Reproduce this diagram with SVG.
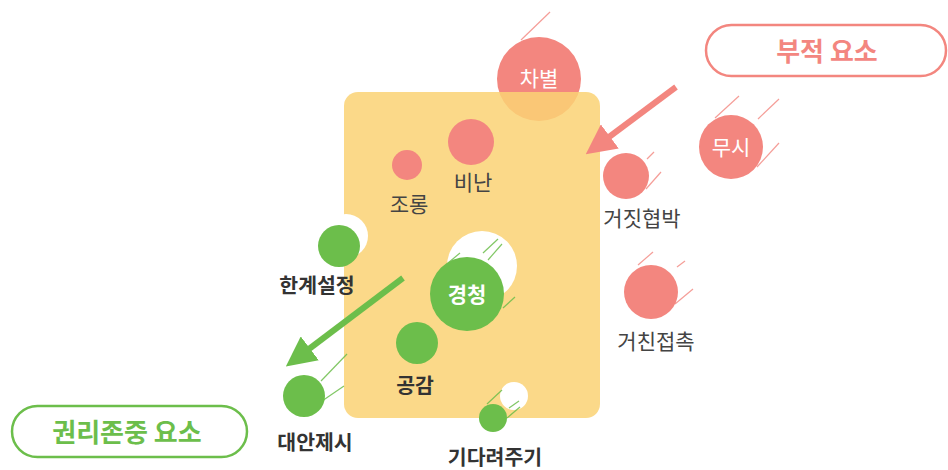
<svg xmlns="http://www.w3.org/2000/svg" width="948" height="470" viewBox="0 0 948 470">
<style>
.pk{fill:#F3867F}
.gr{fill:#6CBE4B}
.wh{fill:#FFFFFF}
.tp{stroke:#F3867F;stroke-width:1.2;opacity:0.8}
.tg{stroke:#6CBE4B;stroke-width:1.2;opacity:0.85}
.lbl{font-family:"Noto Sans CJK KR","Noto Sans",sans-serif;font-size:21px;fill:#444;text-anchor:middle}
.lb{font-family:"Noto Sans CJK KR","Noto Sans",sans-serif;font-size:20.5px;font-weight:bold;fill:#333;text-anchor:middle}
.in{font-family:"Noto Sans CJK KR","Noto Sans",sans-serif;font-size:21px;fill:#fff;text-anchor:middle}
.ttl{font-family:"Noto Sans CJK KR","Noto Sans",sans-serif;font-size:26px;font-weight:bold;text-anchor:middle}
</style>
<defs>
<marker id="ahp" viewBox="0 0 10 10" refX="2" refY="5" markerWidth="5" markerHeight="5" orient="auto" markerUnits="strokeWidth"><path d="M0,0 L10,5 L0,10 Z" fill="#F3867F"/></marker>
<marker id="ahg" viewBox="0 0 10 10" refX="2" refY="5" markerWidth="5" markerHeight="5" orient="auto" markerUnits="strokeWidth"><path d="M0,0 L10,5 L0,10 Z" fill="#6CBE4B"/></marker>
</defs>

<g id="node-chabyeol">
<line class="tp" x1="521" y1="40" x2="550" y2="12"/>
<circle class="pk" cx="539" cy="79" r="42"/>
</g>

<g id="area">
<rect x="344" y="92" width="256" height="326" rx="14" fill="#FAD274" fill-opacity="0.85"/>
</g>
<text class="in" x="539" y="86">차별</text>

<g id="node-binan">
<circle class="pk" cx="471" cy="142" r="23"/>
<text class="lbl" x="473" y="190">비난</text>
</g>
<g id="node-joryong">
<circle class="pk" cx="407" cy="165" r="15"/>
<text class="lbl" x="409" y="212">조롱</text>
</g>
<g id="node-geojit">
<line class="tp" x1="647" y1="159" x2="654" y2="152"/>
<line class="tp" x1="646" y1="189" x2="661" y2="172"/>
<circle class="pk" cx="626" cy="176" r="23"/>
<text class="lbl" x="642" y="226">거짓협박</text>
</g>
<g id="node-musi">
<line class="tp" x1="715" y1="118" x2="739" y2="96"/>
<line class="tp" x1="758" y1="119" x2="779" y2="99"/>
<line class="tp" x1="757" y1="167" x2="779" y2="143"/>
<circle class="pk" cx="731" cy="147" r="32"/>
<text class="in" x="731" y="155">무시</text>
</g>
<g id="node-geochin">
<line class="tp" x1="638" y1="265" x2="653" y2="252"/>
<line class="tp" x1="677" y1="267" x2="685" y2="261"/>
<line class="tp" x1="675" y1="304" x2="693" y2="289"/>
<circle class="pk" cx="651" cy="292" r="27"/>
<text class="lbl" x="656" y="349">거친접촉</text>
</g>

<g id="node-hangye">
<circle class="wh" cx="346" cy="236" r="22"/>
<circle class="gr" cx="339" cy="246" r="21"/>
<text class="lb" x="317" y="293">한계설정</text>
</g>
<g id="node-gyeongcheong">
<circle class="wh" cx="482" cy="266" r="35"/>
<line class="tg" x1="483" y1="253" x2="498" y2="239"/>
<line class="tg" x1="488" y1="260" x2="502" y2="244"/>
<line class="tg" x1="503" y1="308" x2="515" y2="297"/>
<line class="tg" x1="448" y1="263" x2="460" y2="253"/>
<circle class="gr" cx="467" cy="294" r="37"/>
<text class="in" x="467" y="302" font-weight="bold" font-size="22">경청</text>
</g>
<g id="node-gonggam">
<circle class="gr" cx="417" cy="343" r="21"/>
<text class="lb" x="415" y="393">공감</text>
</g>
<g id="node-daean">
<line class="tg" x1="321" y1="381" x2="347" y2="354"/>
<line class="tg" x1="322" y1="401" x2="344" y2="386"/>
<circle class="gr" cx="304" cy="396" r="21"/>
<text class="lb" x="315" y="450">대안제시</text>
</g>
<g id="node-gidaryeo">
<circle class="wh" cx="514" cy="396" r="14"/>
<line class="tg" x1="487" y1="404" x2="502" y2="390"/>
<line class="tg" x1="507" y1="418" x2="520" y2="407"/>
<line class="tg" x1="509" y1="408" x2="519" y2="401"/>
<circle class="gr" cx="493" cy="418" r="14"/>
<text class="lb" x="495" y="465">기다려주기</text>
</g>

<g id="title-neg">
<rect x="706" y="25" width="240" height="51" rx="25.5" fill="#fff" stroke="#F3867F" stroke-width="2.5"/>
<text class="ttl" x="827" y="61" fill="#F3867F">부적 요소</text>
</g>
<g id="title-pos">
<rect x="12" y="406" width="235" height="51" rx="25.5" fill="#fff" stroke="#6CBE4B" stroke-width="2.5"/>
<text class="ttl" x="127" y="442" fill="#6CBE4B">권리존중 요소</text>
</g>

<g id="connectors">
<line x1="676" y1="87" x2="605" y2="140" stroke="#F3867F" stroke-width="6" marker-end="url(#ahp)"/>
<line x1="403" y1="278" x2="305" y2="352" stroke="#6CBE4B" stroke-width="6" marker-end="url(#ahg)"/>
</g>
</svg>
